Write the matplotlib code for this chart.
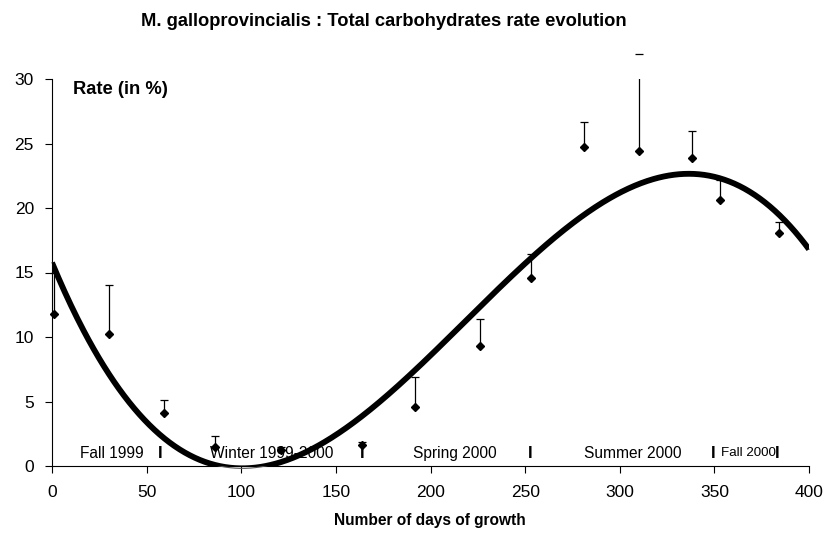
import numpy as np
import matplotlib
matplotlib.use("Agg")
import matplotlib.pyplot as plt

plt.rcParams['font.family'] = ['Liberation Sans', 'DejaVu Sans']

# Data
days = [1, 30, 59, 86, 121, 164, 192, 226, 253, 281, 310, 338, 353, 384]
rates = [11.8, 10.2, 4.1, 1.5, 1.25, 1.6, 4.6, 9.3, 14.6, 24.7, 24.4, 23.9, 20.6, 18.1]
err_top = [15.0, 14.0, 5.1, 2.3, 1.5, 1.85, 6.9, 11.4, 16.4, 26.7, 31.9, 26.0, 22.2, 18.9]

season_labels = ["Fall 1999", "Winter 1999-2000", "Spring 2000", "Summer 2000", "Fall 2000"]
season_label_x = [31.7, 116, 213, 307, 353.5]
season_marks = [57, 164, 252.5, 349.5, 383]

xticks = [0, 50, 100, 150, 200, 250, 300, 350, 400]
yticks = [0, 5, 10, 15, 20, 25, 30]

title = "M. galloprovincialis : Total carbohydrates rate evolution"
xlabel = "Number of days of growth"
ylabel = "Rate (in %)"

days_a = np.array(days, dtype=float)
rates_a = np.array(rates)
err_a = np.array(err_top) - rates_a

fig = plt.figure(figsize=(8.26, 5.43), dpi=100)
ax = fig.add_axes([52/826, 77/543, (809-52)/826, (466-79)/543])

# polynomial (order 3) trendline fitted to the data
coefs = np.polyfit(days_a, rates_a, 3)
xs = np.linspace(0, 400, 600)
ys = np.polyval(coefs, xs)
ax.plot(xs, ys, color='black', lw=4.2, solid_capstyle='butt', zorder=4)
ax.plot(xs, ys, color='#555555', lw=0.8, clip_on=False, zorder=3)

# error bars (upper only)
ax.errorbar(days_a, rates_a, yerr=[np.zeros_like(err_a), err_a], fmt='none',
            ecolor='black', elinewidth=0.9, capsize=0, zorder=2)
ax.plot(days_a, err_top, ls='none', marker='_', ms=5.5, mew=0.9, color='black',
        clip_on=False, zorder=2)
ax.plot(days_a, rates_a, ls='none', marker='D', ms=4.0, color='black', zorder=5,
        clip_on=False)

# season labels
for lab, x in zip(season_labels, season_label_x):
    if lab == "Fall 2000":
        ax.text(x, 1.0, lab, ha='left', va='center', fontsize=9.6, zorder=6)
    else:
        ax.text(x, 1.0, lab, ha='center', va='center', fontsize=11.2, zorder=6)
for x in season_marks:
    ax.text(x, 1.0, "I", ha='center', va='center', fontsize=12, fontweight='bold', zorder=6)

ax.set_xlim(0, 400)
ax.set_ylim(0, 30)
ax.set_xticks(xticks)
ax.set_yticks(yticks)
ax.tick_params(axis='both', direction='out', length=5, width=0.8, labelsize=12.5, color='black')
ax.tick_params(axis='x', pad=9)
ax.tick_params(axis='y', pad=8)
for s in ['top', 'right']:
    ax.spines[s].set_visible(False)
for s in ['left', 'bottom']:
    ax.spines[s].set_linewidth(0.8)

fig.text(73/826, 1 - 90/543, ylabel, fontsize=13.2, fontweight='bold',
         ha='left', va='center')
fig.text(383.5/826, 1 - 22/543, title, ha='center', va='center', fontsize=13.2, fontweight='bold')
fig.text(430/826, 1 - 521/543, xlabel, ha='center', va='center', fontsize=11.2, fontweight='bold')

fig.savefig("out.png", dpi=100)
